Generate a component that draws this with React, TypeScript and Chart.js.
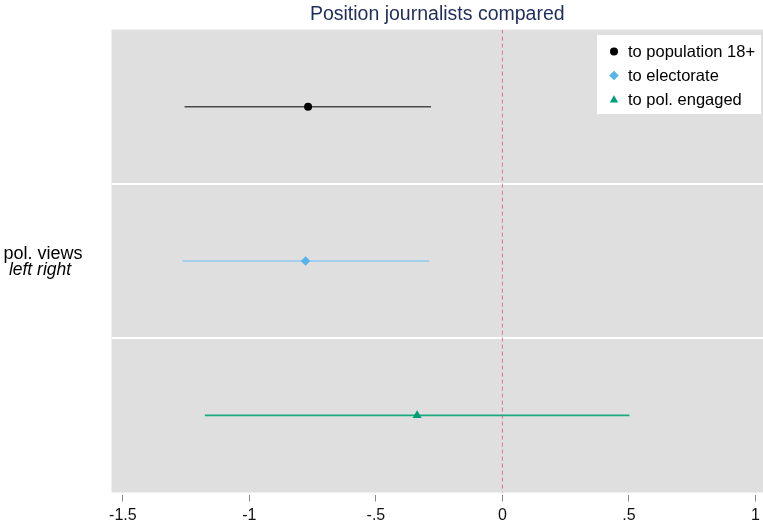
import React, { useEffect, useRef } from 'react';
import { Chart, registerables } from 'chart.js';

Chart.register(...registerables);

const categories = ['to population 18+', 'to electorate', 'to pol. engaged'];
const estimates = [-0.768, -0.778, -0.337];
const lowerCI = [-1.256, -1.264, -1.176];
const upperCI = [-0.282, -0.289, 0.502];
const xTicks = [-1.5, -1, -0.5, 0, 0.5, 1];
const xTickLabels = ['-1.5', '-1', '-.5', '0', '.5', '1'];
const titleText = 'Position journalists compared';
const yTitleLines = ['pol. views', 'left right'];

const pointColors = ['#000000', '#56b4e9', '#009e73'];
const lineColors = ['#4a4a4a', '#8ecbee', '#1aaa7d'];
const pointStyles = ['circle', 'rectRot', 'triangle'];
const pointRadii = [4, 4.8, 5.2];

const FONT = '"Liberation Sans", Arial, sans-serif';

function drawMarker(ctx: CanvasRenderingContext2D, style: string, x: number, y: number, r: number, color: string) {
  ctx.save();
  ctx.fillStyle = color;
  ctx.beginPath();
  if (style === 'circle') {
    ctx.arc(x, y, r, 0, Math.PI * 2);
  } else if (style === 'rectRot') {
    ctx.moveTo(x, y - r);
    ctx.lineTo(x + r, y);
    ctx.lineTo(x, y + r);
    ctx.lineTo(x - r, y);
    ctx.closePath();
  } else {
    const h = r * 1.5;
    const w = r * 0.866;
    ctx.moveTo(x, y - h * 0.6);
    ctx.lineTo(x + w, y + h * 0.4);
    ctx.lineTo(x - w, y + h * 0.4);
    ctx.closePath();
  }
  ctx.fill();
  ctx.restore();
}

const bgPlugin = {
  id: 'bgPlugin',
  beforeDraw(chart: any) {
    const { ctx, chartArea } = chart;
    ctx.save();
    ctx.fillStyle = '#dfdfdf';
    ctx.fillRect(chartArea.left, chartArea.top, chartArea.right - chartArea.left, chartArea.bottom - chartArea.top);
    ctx.restore();
  },
  afterDraw(chart: any) {
    const { ctx, chartArea } = chart;
    const midY = (chartArea.top + chartArea.bottom) / 2;
    ctx.save();
    ctx.fillStyle = '#000000';
    ctx.textAlign = 'center';
    ctx.textBaseline = 'middle';
    ctx.font = `18px ${FONT}`;
    ctx.fillText(yTitleLines[0], 43, midY - 7);
    ctx.font = `italic 17.5px ${FONT}`;
    ctx.fillText(yTitleLines[1], 40, midY + 9);

    // legend
    const bx = 597, by = 35, bw = 164, bh = 79;
    ctx.fillStyle = '#ffffff';
    ctx.fillRect(bx, by, bw, bh);
    ctx.font = `16.5px ${FONT}`;
    ctx.textAlign = 'left';
    ctx.textBaseline = 'middle';
    categories.forEach((c, i) => {
      const y = 51.5 + i * 24;
      drawMarker(ctx, pointStyles[i], 614, y, i === 0 ? 4 : 4.8, pointColors[i]);
      ctx.fillStyle = '#000000';
      ctx.fillText(c, 628, y + 0.5);
    });
    ctx.restore();
  },
};

export default function App() {
  const ref = useRef<HTMLCanvasElement>(null);
  useEffect(() => {
    if (!ref.current) return;
    const datasets: any[] = [];
    datasets.push({
      data: [{ x: 0, y: 0 }, { x: 0, y: 3 }],
      showLine: true,
      borderColor: '#de6f98',
      borderWidth: 1,
      borderDash: [4, 3],
      pointRadius: 0,
      order: 10,
    });
    categories.forEach((c, i) => {
      datasets.push({
        data: [{ x: lowerCI[i], y: i + 0.5 }, { x: upperCI[i], y: i + 0.5 }],
        showLine: true,
        borderColor: lineColors[i],
        borderWidth: 1.6,
        pointRadius: 0,
        order: 5,
      });
      datasets.push({
        label: c,
        data: [{ x: estimates[i], y: i + 0.5 }],
        pointStyle: pointStyles[i],
        pointRadius: pointRadii[i],
        backgroundColor: pointColors[i],
        borderColor: pointColors[i],
        borderWidth: 0,
        order: 1,
      });
    });
    const chart = new Chart(ref.current, {
      type: 'scatter',
      data: { datasets },
      plugins: [bgPlugin],
      options: {
        animation: false,
        responsive: false,
        maintainAspectRatio: false,
        layout: { padding: 0, autoPadding: false },
        plugins: {
          legend: { display: false },
          tooltip: { enabled: false },
          title: {
            display: true,
            text: titleText,
            fullSize: false,
            color: '#1f2d5a',
            font: { family: FONT, size: 19.5, weight: 'normal' },
            padding: { top: 3, bottom: 3.2 },
          },
        },
        scales: {
          x: {
            type: 'linear',
            min: -1.545,
            max: 1.03,
            afterBuildTicks: (scale: any) => {
              scale.ticks = xTicks.map((v) => ({ value: v }));
            },
            afterFit: (scale: any) => {
              scale.height = 32.5;
              scale.paddingLeft = 0;
              scale.paddingRight = 0;
            },
            ticks: {
              autoSkip: false,
              maxRotation: 0,
              padding: 4,
              color: '#111111',
              font: { family: FONT, size: 16 },
              callback: (v: any) => {
                const idx = xTicks.indexOf(Number(v));
                return idx >= 0 ? xTickLabels[idx] : '';
              },
            },
            grid: {
              drawOnChartArea: false,
              drawTicks: true,
              tickLength: 9,
              tickColor: '#8a8a8a',
              tickWidth: 1,
              tickBorderDash: [0, 2, 7, 30],
            },
            border: { display: false },
          },
          y: {
            type: 'linear',
            min: 0,
            max: 3,
            reverse: true,
            afterBuildTicks: (scale: any) => {
              scale.ticks = [{ value: 1 }, { value: 2 }];
            },
            afterFit: (scale: any) => {
              scale.width = 111.5;
              scale.paddingTop = 0;
              scale.paddingBottom = 0;
            },
            ticks: { display: false },
            grid: {
              color: '#ffffff',
              lineWidth: 2,
              drawTicks: false,
            },
            border: { display: false },
          },
        },
      },
    });
    return () => chart.destroy();
  }, []);
  return (
    <div style={{ position: 'absolute', left: 0, top: 0, width: 763, height: 525, background: '#ffffff' }}>
      <canvas ref={ref} width={763} height={525} style={{ width: 763, height: 525, display: 'block' }} />
    </div>
  );
}
